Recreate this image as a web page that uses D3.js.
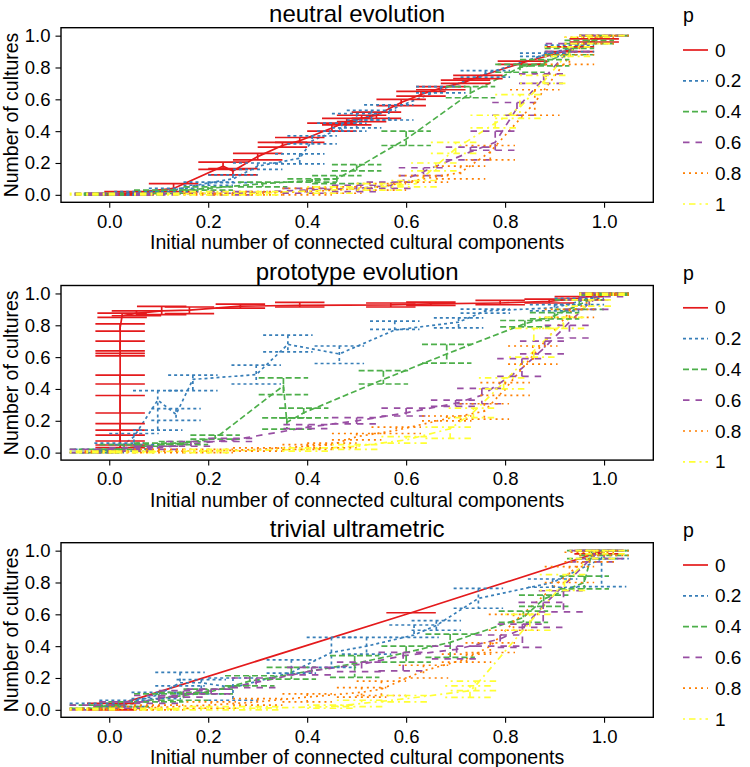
<!DOCTYPE html>
<html><head><meta charset="utf-8">
<script src="https://cdn.jsdelivr.net/npm/d3@7"></script>
<style>body{margin:0;background:#fff}svg{display:block}text{font-family:"Liberation Sans",Arial,Helvetica,sans-serif}</style>
</head><body>
<script>
// ---------- data ----------
const pLevels = ["0","0.2","0.4","0.6","0.8","1"];
const panelTitles = ["neutral evolution","prototype evolution","trivial ultrametric"];
const xTicks = [0, 0.2, 0.4, 0.6, 0.8, 1.0];
const yTicks = [0, 0.2, 0.4, 0.6, 0.8, 1.0];
const xLabel = "Initial number of connected cultural components";
const yLabel = "Number of cultures";
const legendTitle = "p";

// each point: [x, y, ymin, ymax]
const neutral_p0 = [[0.0,0.005,0,0.01],[0.04,0.01,0,0.02],[0.13,0.04,0.02,0.07],[0.23,0.18,0.16,0.205],[0.25,0.15,0.125,0.165],[0.30,0.24,0.22,0.26],[0.35,0.31,0.30,0.33],[0.385,0.34,0.33,0.36],[0.45,0.42,0.40,0.45],[0.48,0.46,0.44,0.48],[0.51,0.48,0.46,0.50],[0.54,0.50,0.48,0.52],[0.59,0.58,0.56,0.60],[0.63,0.63,0.62,0.65],[0.67,0.67,0.66,0.68],[0.72,0.71,0.70,0.72],[0.745,0.74,0.73,0.75],[0.835,0.83,0.82,0.84],[0.93,0.91,0.90,0.93],[0.98,0.97,0.96,0.98],[1.0,1.0,1.0,1.0]];
const neutral_p02 = [[0.0,0.005,0,0.01],[0.06,0.01,0,0.02],[0.13,0.03,0.02,0.04],[0.2,0.075,0.06,0.08],[0.25,0.1,0.077,0.125],[0.30,0.18,0.16,0.2],[0.385,0.23,0.195,0.257],[0.41,0.34,0.32,0.37],[0.47,0.42,0.40,0.45],[0.5,0.47,0.42,0.51],[0.53,0.5,0.47,0.53],[0.565,0.53,0.47,0.565],[0.67,0.66,0.64,0.68],[0.76,0.76,0.74,0.78],[0.88,0.88,0.87,0.89],[0.93,0.92,0.90,0.94],[1.0,1.0,1.0,1.0]];
const neutral_p04 = [[-0.02,0.005,0,0.01],[0.1,0.02,0.01,0.03],[0.2,0.04,0.03,0.05],[0.31,0.07,0.05,0.08],[0.41,0.09,0.08,0.1],[0.46,0.1,0.07,0.12],[0.5,0.17,0.15,0.19],[0.6,0.35,0.31,0.40],[0.73,0.64,0.61,0.68],[0.83,0.80,0.77,0.82],[0.88,0.83,0.81,0.85],[0.93,0.90,0.88,0.92],[0.97,0.96,0.95,0.97],[1.0,1.0,1.0,1.0]];
const neutral_p06 = [[-0.02,0.005,0,0.01],[0.1,0.005,0,0.01],[0.25,0.01,0,0.02],[0.4,0.03,0.01,0.04],[0.5,0.04,0.02,0.06],[0.57,0.06,0.04,0.08],[0.635,0.146,0.12,0.17],[0.73,0.27,0.22,0.3],[0.78,0.33,0.28,0.40],[0.824,0.544,0.5,0.58],[0.878,0.73,0.7,0.76],[0.932,0.92,0.9,0.95],[1.0,1.0,1.0,1.0]];
const neutral_p08 = [[0.2,0.005,0,0.01],[0.3,0.01,0,0.02],[0.4,0.02,0,0.04],[0.46,0.03,0.01,0.05],[0.55,0.05,0.03,0.07],[0.635,0.1,0.08,0.12],[0.71,0.14,0.1,0.18],[0.77,0.27,0.22,0.31],[0.86,0.58,0.5,0.66],[0.93,0.87,0.82,0.88],[0.97,0.97,0.95,0.99],[1.0,1.0,1.0,1.0]];
const neutral_p1 = [[-0.03,0.005,0,0.01],[0.1,0.005,0,0.01],[0.2,0.01,0,0.02],[0.3,0.01,0,0.02],[0.45,0.03,0.01,0.05],[0.55,0.05,0.03,0.07],[0.62,0.07,0.05,0.09],[0.66,0.18,0.15,0.2],[0.7,0.29,0.26,0.33],[0.78,0.45,0.42,0.5],[0.83,0.55,0.48,0.63],[0.88,0.72,0.7,0.75],[0.93,0.9,0.87,0.93],[0.97,0.97,0.95,0.99],[1.0,1.0,1.0,1.0]];

const proto_p0 = [[0.022,0.04,0.031,0.048],[0.022,0.09,0.073,0.11],[0.022,0.16,0.141,0.182],[0.022,0.3,0.249,0.359],[0.022,0.46,0.431,0.487],[0.022,0.615,0.608,0.624],[0.022,0.67,0.639,0.701],[0.022,0.785,0.763,0.809],[0.026,0.86,0.85,0.877],[0.055,0.875,0.86,0.89],[0.106,0.89,0.867,0.919],[0.162,0.895,0.873,0.915],[0.265,0.92,0.908,0.933],[0.385,0.925,0.915,0.944],[0.569,0.928,0.915,0.94],[0.65,0.935,0.925,0.945],[0.79,0.94,0.929,0.956],[0.889,0.95,0.94,0.965],[0.95,0.97,0.96,0.98],[1.0,1.0,0.99,1.0]];
const proto_p02 = [[-0.02,0.01,0,0.02],[0.02,0.03,0.01,0.06],[0.05,0.1,0.05,0.12],[0.098,0.33,0.141,0.39],[0.135,0.24,0.203,0.276],[0.169,0.46,0.39,0.487],[0.297,0.49,0.431,0.55],[0.361,0.68,0.633,0.738],[0.465,0.62,0.56,0.67],[0.577,0.77,0.774,0.826],[0.706,0.82,0.784,0.846],[0.76,0.89,0.877,0.902],[0.9,0.91,0.89,0.93],[0.95,0.95,0.93,0.97],[1.0,1.0,0.99,1.0]];
const proto_p04 = [[-0.03,0.01,0,0.02],[0.03,0.03,0.02,0.05],[0.1,0.05,0.04,0.06],[0.15,0.06,0.05,0.07],[0.214,0.09,0.085,0.11],[0.352,0.42,0.365,0.469],[0.359,0.19,0.147,0.218],[0.393,0.25,0.218,0.28],[0.554,0.46,0.431,0.515],[0.682,0.62,0.562,0.68],[0.84,0.81,0.79,0.83],[0.9,0.86,0.84,0.88],[0.95,0.93,0.9,0.96],[1.0,1.0,0.99,1.0]];
const proto_p06 = [[-0.03,0.01,0,0.02],[0.05,0.02,0.01,0.03],[0.1,0.03,0.02,0.04],[0.165,0.055,0.04,0.07],[0.25,0.08,0.07,0.09],[0.402,0.16,0.151,0.176],[0.5,0.2,0.18,0.22],[0.6,0.25,0.23,0.28],[0.7,0.31,0.29,0.33],[0.753,0.36,0.307,0.404],[0.834,0.53,0.479,0.591],[0.88,0.66,0.62,0.7],[0.93,0.82,0.72,0.8],[0.97,0.94,0.9,0.96],[1.0,1.0,0.98,1.0]];
const proto_p08 = [[0.0,0.005,0,0.01],[0.1,0.01,0,0.02],[0.2,0.01,0,0.02],[0.3,0.02,0.01,0.03],[0.4,0.04,0.02,0.05],[0.45,0.05,0.03,0.06],[0.5,0.1,0.08,0.12],[0.58,0.14,0.12,0.16],[0.682,0.213,0.2,0.23],[0.758,0.26,0.21,0.307],[0.8,0.4,0.36,0.44],[0.856,0.61,0.556,0.67],[0.93,0.88,0.85,0.9],[1.0,1.0,0.99,1.0]];
const proto_p1 = [[-0.03,0.005,0,0.01],[0.05,0.005,0,0.01],[0.2,0.01,0,0.02],[0.4,0.02,0.01,0.03],[0.5,0.04,0.02,0.05],[0.6,0.08,0.06,0.1],[0.689,0.15,0.09,0.16],[0.736,0.255,0.22,0.28],[0.797,0.44,0.4,0.47],[0.858,0.64,0.6,0.78],[0.918,0.815,0.78,0.85],[0.972,0.94,0.92,0.96],[1.0,1.0,0.99,1.0]];

const trivial_p0 = [[0.005,0.02,0,0.04],[0.61,0.61,0.61,0.61],[0.99,0.99,0.98,1.0]];
const trivial_p02 = [[-0.03,0.02,0.01,0.04],[0.03,0.04,0.02,0.06],[0.095,0.09,0.07,0.11],[0.143,0.17,0.151,0.235],[0.186,0.17,0.1,0.19],[0.25,0.14,0.06,0.2],[0.368,0.235,0.23,0.314],[0.449,0.36,0.267,0.455],[0.52,0.4,0.35,0.455],[0.616,0.47,0.455,0.533],[0.661,0.53,0.5,0.56],[0.746,0.7,0.638,0.763],[0.896,0.8,0.77,0.822],[0.995,0.95,0.774,1.0],[1.0,1.0,0.95,1.0]];
const trivial_p04 = [[-0.03,0.02,0.01,0.03],[0.03,0.03,0.02,0.05],[0.1,0.07,0.05,0.1],[0.15,0.09,0.06,0.11],[0.2,0.11,0.1,0.13],[0.284,0.18,0.151,0.214],[0.368,0.224,0.193,0.267],[0.496,0.29,0.204,0.34],[0.6,0.36,0.3,0.4],[0.689,0.424,0.33,0.476],[0.837,0.58,0.55,0.62],[0.878,0.696,0.65,0.72],[0.96,0.8,0.76,0.84],[0.975,0.98,0.95,1.0],[1.0,1.0,0.97,1.0]];
const trivial_p06 = [[-0.03,0.01,0,0.03],[0.03,0.03,0.01,0.05],[0.1,0.07,0.04,0.09],[0.15,0.1,0.08,0.12],[0.206,0.12,0.1,0.13],[0.297,0.172,0.14,0.2],[0.409,0.245,0.22,0.267],[0.51,0.287,0.24,0.3],[0.594,0.34,0.245,0.361],[0.702,0.38,0.32,0.4],[0.79,0.445,0.4,0.47],[0.835,0.51,0.392,0.539],[0.877,0.654,0.518,0.675],[0.918,0.78,0.616,0.748],[0.98,0.97,0.93,1.0],[1.0,1.0,0.95,1.0]];
const trivial_p08 = [[-0.03,0.005,0,0.01],[0.05,0.01,0,0.02],[0.1,0.015,0,0.03],[0.206,0.03,0.01,0.05],[0.3,0.05,0.03,0.07],[0.4,0.08,0.05,0.1],[0.51,0.11,0.08,0.14],[0.55,0.13,0.09,0.18],[0.635,0.245,0.2,0.28],[0.722,0.32,0.3,0.35],[0.77,0.4,0.36,0.42],[0.817,0.55,0.5,0.6],[0.93,0.86,0.8,0.9],[0.97,0.96,0.93,0.99],[1.0,1.0,0.97,1.0]];
const trivial_p1 = [[-0.03,0.005,0,0.01],[0.1,0.005,0,0.01],[0.2,0.01,0,0.02],[0.3,0.01,0,0.02],[0.45,0.02,0.01,0.03],[0.51,0.04,0.02,0.06],[0.6,0.07,0.05,0.09],[0.729,0.12,0.078,0.151],[0.74,0.15,0.12,0.18],[0.85,0.55,0.5,0.6],[0.92,0.8,0.75,0.85],[0.98,0.98,0.95,1.0],[1.0,1.0,0.98,1.0]];

const panelSeries = [
  [neutral_p0, neutral_p02, neutral_p04, neutral_p06, neutral_p08, neutral_p1],
  [proto_p0, proto_p02, proto_p04, proto_p06, proto_p08, proto_p1],
  [trivial_p0, trivial_p02, trivial_p04, trivial_p06, trivial_p08, trivial_p1]
];

// ---------- styles ----------
const colors = ["#E41A1C","#377EB8","#4DAF4A","#984EA3","#FF7F00","#FFFF33"];
const dashes = [null, "3,3", "6,3", "6.5,6", "2,4", "2,4,6.5,4"];
const capHalf = 0.05;
const lw = 1.7;

const svg = d3.select("body").append("svg").attr("width",750).attr("height",767);
svg.append("rect").attr("width",750).attr("height",767).attr("fill","#fff");

const left = 61, right = 653.3, ph = 174.6;
const tops = [27.7, 285.5, 542.7];
const x = d3.scaleLinear().domain([-0.0975, 1.0995]).range([left, right]);

panelSeries.forEach((series, pi) => {
  const top = tops[pi], bottom = top + ph;
  const y = d3.scaleLinear().domain([-0.047, 1.05]).range([bottom, top]);
  const g = svg.append("g");
  const cid = "clip" + pi;
  g.append("clipPath").attr("id", cid).append("rect")
    .attr("x", left).attr("y", top).attr("width", right - left).attr("height", ph);
  const plot = g.append("g").attr("clip-path", `url(#${cid})`);

  const line = d3.line().x(d => x(d[0])).y(d => y(d[1]));
  series.forEach((data, si) => {
    const sorted = data.map((d,i)=>[d,i]).sort((a,b)=>a[0][0]-b[0][0] || a[1]-b[1]).map(d=>d[0]);
    plot.append("path").attr("d", line(sorted))
      .attr("fill","none").attr("stroke", colors[si]).attr("stroke-width", lw)
      .attr("stroke-dasharray", dashes[si]);
  });
  series.forEach((data, si) => {
    plot.selectAll(null).data(data).enter().append("path")
      .attr("d", d => {
        const xl = x(d[0]-capHalf), xr = x(d[0]+capHalf), xc = x(d[0]);
        const yt = y(d[3]), yb = y(d[2]);
        return `M${xl},${yt}H${xr}M${xc},${yt}V${yb}M${xl},${yb}H${xr}`;
      })
      .attr("fill","none").attr("stroke", colors[si]).attr("stroke-width", lw)
      .attr("stroke-dasharray", dashes[si]);
  });

  g.append("rect").attr("x", left).attr("y", top).attr("width", right-left).attr("height", ph)
    .attr("fill","none").attr("stroke","#000").attr("stroke-width",1.4);

  const xa = g.append("g").attr("transform", `translate(0,${bottom})`)
    .call(d3.axisBottom(x).tickValues(xTicks).tickFormat(d3.format(".1f")).tickSize(5.5).tickPadding(6.6));
  const ya = g.append("g").attr("transform", `translate(${left},0)`)
    .call(d3.axisLeft(y).tickValues(yTicks).tickFormat(d3.format(".1f")).tickSize(5.5).tickPadding(5));
  [xa, ya].forEach(a => {
    a.select(".domain").remove();
    a.selectAll(".tick line").attr("stroke","#000").attr("stroke-width",1.1);
    a.selectAll(".tick text").attr("fill","#000").style("font-size","18.5px")
      .style("font-family",'"Liberation Sans",Arial,sans-serif');
  });

  const cx = (left + right) / 2;
  g.append("text").attr("x", cx).attr("y", top - 6).attr("text-anchor","middle")
    .style("font-size","24px").text(panelTitles[pi]);
  g.append("text").attr("x", cx).attr("y", bottom + 46.5).attr("text-anchor","middle")
    .style("font-size","19.5px").text(xLabel);
  g.append("text").attr("transform", `translate(18,${(top+bottom)/2}) rotate(-90)`)
    .attr("text-anchor","middle").style("font-size","19.5px").text(yLabel);

  // legend
  const lg = g.append("g");
  lg.append("text").attr("x", 683).attr("y", top - 6).style("font-size","19.5px").text(legendTitle);
  pLevels.forEach((lab, si) => {
    const ly = top + 22.3 + si * 30.8;
    lg.append("line").attr("x1", 683).attr("x2", 708).attr("y1", ly).attr("y2", ly)
      .attr("stroke", colors[si]).attr("stroke-width", lw).attr("stroke-dasharray", dashes[si]);
    lg.append("text").attr("x", 715).attr("y", ly).attr("dy","0.35em")
      .style("font-size","19px").text(lab);
  });
});
</script>
</body></html>
